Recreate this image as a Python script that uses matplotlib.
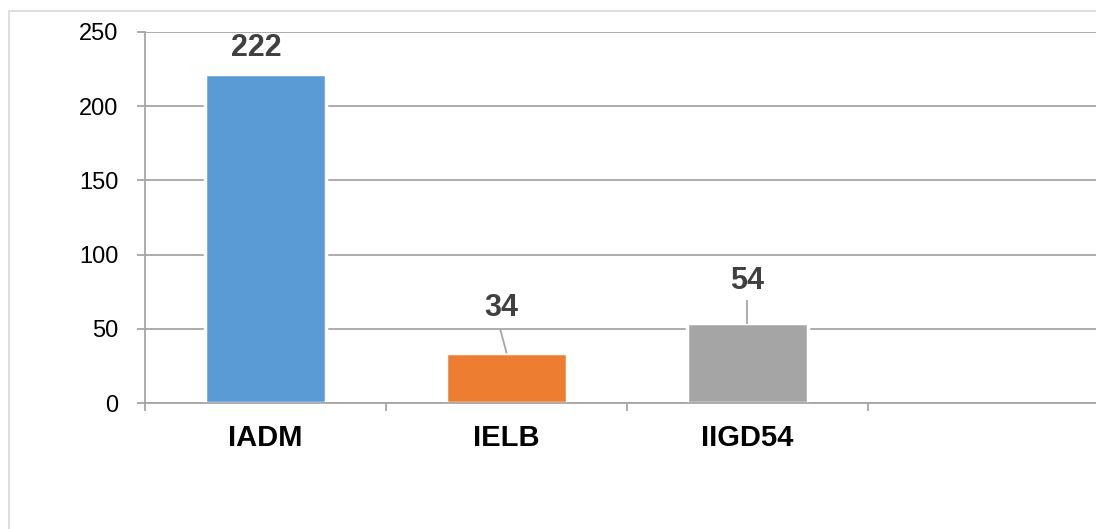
import matplotlib.pyplot as plt
from matplotlib.patches import Rectangle

categories = ['IADM', 'IELB', 'IIGD54']
values = [222, 34, 54]
colors = ['#5B9BD5', '#ED7D31', '#A5A5A5']
yticks = [0, 50, 100, 150, 200, 250]

W, H = 1096, 529
fig = plt.figure(figsize=(W / 100, H / 100), dpi=100)
plt.rcParams['font.family'] = ['Liberation Sans', 'DejaVu Sans']

# outer chart frame (runs off the right and bottom edges)
fig.patches.append(Rectangle((9 / W, -0.1), 1.2, 1 - 11 / H + 0.1,
                             transform=fig.transFigure, fill=False,
                             edgecolor='#D9D9D9', linewidth=1.2))

# axes: 4 category slots, the last one empty, running past the right edge
ax = fig.add_axes([145 / W, 1 - 403 / H, (1109 - 145) / W, (403 - 32) / H])
ax.set_xlim(-0.5, 3.5)
ax.set_ylim(0, 250)

ax.yaxis.grid(True, color='#A6A6A6', linewidth=1.3)
ax.set_axisbelow(True)
for s in ['top', 'right']:
    ax.spines[s].set_visible(False)
for s in ['left', 'bottom']:
    ax.spines[s].set_color('#A6A6A6')
    ax.spines[s].set_linewidth(1.3)

x = list(range(len(categories)))
ax.bar(x, values, width=0.5, color=colors, edgecolor='white', linewidth=2.5, zorder=2)

ax.set_yticks(yticks)
ax.set_yticklabels([str(t) for t in yticks], fontsize=17)
ax.tick_params(axis='y', length=6, color='#A6A6A6', width=1.3, pad=13)

ax.set_xticks(x)
ax.set_xticklabels(categories, fontsize=21, fontweight='bold')
ax.tick_params(axis='x', which='major', length=0, pad=15)
ax.set_xticks([-0.5, 0.5, 1.5, 2.5], minor=True)
ax.tick_params(axis='x', which='minor', length=6, color='#A6A6A6', width=1.3)

# data labels, the small ones with a leader line
label_dx = [-0.037, -0.02, 0.0]
label_dy = [17, 30, 28]
for xi, v, dx, dy in zip(x, values, label_dx, label_dy):
    ax.text(xi + dx, v + dy, str(v), ha='center', va='center',
            fontsize=22, fontweight='bold', color='#404040', zorder=3)
for xi, v, dx in [(1, values[1], -0.025), (2, values[2], 0.0)]:
    ax.plot([xi + dx, xi], [v + 15, v], color='#A6A6A6', linewidth=1.3, zorder=3)

fig.savefig('out.png', dpi=100)
